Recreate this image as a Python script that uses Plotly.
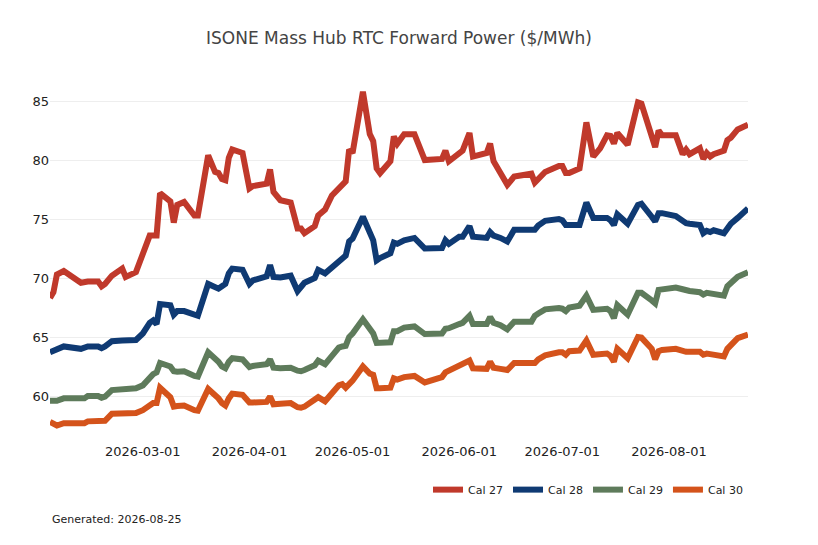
import plotly.graph_objects as go

# forward curve marks (settle dates) and prices in $/MWh
dates = [
    "2026-02-02", "2026-02-03", "2026-02-04", "2026-02-06", "2026-02-11", "2026-02-12", "2026-02-13", "2026-02-16", "2026-02-17", "2026-02-18",
    "2026-02-20", "2026-02-23", "2026-02-24", "2026-02-27", "2026-03-01", "2026-03-03", "2026-03-04", "2026-03-05", "2026-03-06", "2026-03-09",
    "2026-03-10", "2026-03-11", "2026-03-13", "2026-03-16", "2026-03-17", "2026-03-20", "2026-03-22", "2026-03-23", "2026-03-24", "2026-03-25",
    "2026-03-26", "2026-03-27", "2026-03-30", "2026-04-01", "2026-04-02", "2026-04-06", "2026-04-07", "2026-04-08", "2026-04-10", "2026-04-13",
    "2026-04-15", "2026-04-16", "2026-04-17", "2026-04-20", "2026-04-21", "2026-04-23", "2026-04-25", "2026-04-27", "2026-04-28", "2026-04-29",
    "2026-04-30", "2026-05-01", "2026-05-04", "2026-05-06", "2026-05-07", "2026-05-08", "2026-05-09", "2026-05-12", "2026-05-13", "2026-05-14",
    "2026-05-16", "2026-05-19", "2026-05-22", "2026-05-27", "2026-05-28", "2026-05-29", "2026-06-01", "2026-06-02", "2026-06-04", "2026-06-05",
    "2026-06-09", "2026-06-10", "2026-06-11", "2026-06-13", "2026-06-15", "2026-06-17", "2026-06-22", "2026-06-23", "2026-06-24", "2026-06-26",
    "2026-06-30", "2026-07-01", "2026-07-02", "2026-07-03", "2026-07-06", "2026-07-08", "2026-07-10", "2026-07-12", "2026-07-14", "2026-07-15",
    "2026-07-16", "2026-07-17", "2026-07-20", "2026-07-23", "2026-07-24", "2026-07-27", "2026-07-28", "2026-07-29", "2026-07-30", "2026-08-03",
    "2026-08-05", "2026-08-06", "2026-08-07", "2026-08-10", "2026-08-11", "2026-08-12", "2026-08-13", "2026-08-14", "2026-08-17", "2026-08-18",
    "2026-08-19", "2026-08-21", "2026-08-24",
]

cal27 = [
    68.3, 68.8, 70.3, 70.6, 69.6, 69.7, 69.7, 69.7, 69.3, 69.5,
    70.2, 70.8, 70.1, 70.5, 72.2, 73.6, 73.6, 73.6, 77.2, 76.5,
    74.7, 76.2, 76.45, 75.3, 75.3, 80.4, 79.0, 78.9, 78.4, 78.3,
    80.2, 80.9, 80.6, 77.6, 77.8, 78.0, 79.2, 77.3, 76.6, 76.4,
    74.2, 74.2, 73.8, 74.4, 75.3, 75.8, 77.0, 77.7, 77.9, 78.2,
    80.9, 80.6, 85.8, 82.2, 81.6, 79.3, 78.9, 79.9, 82.0, 81.4,
    82.2, 82.2, 80.0, 80.1, 80.8, 79.9, 80.6, 80.8, 82.3, 80.3,
    80.6, 81.4, 79.9, 78.8, 77.9, 78.6, 78.85, 78.1, 78.4, 79.0,
    79.5, 79.5, 78.9, 78.9, 79.3, 83.2, 80.3, 81.0, 82.1, 82.05,
    81.4, 82.3, 81.3, 84.9, 84.8, 82.3, 81.1, 82.5, 82.1, 82.1,
    80.5, 80.9, 80.5, 81.0, 80.1, 80.6, 80.3, 80.5, 80.8, 81.7,
    81.9, 82.6, 83.0,
]

cal28 = [
    63.7, 63.8, 63.9, 64.2, 64.0, 64.1, 64.2, 64.2, 64.05, 64.2,
    64.65, 64.7, 64.7, 64.75, 65.3, 66.2, 66.4, 66.1, 67.8, 67.7,
    66.9, 67.2, 67.2, 66.9, 66.8, 69.5, 69.3, 69.1, 69.3, 69.5,
    70.4, 70.8, 70.7, 69.5, 69.8, 70.15, 71.1, 70.1, 70.05, 70.2,
    68.9, 69.3, 69.6, 70.0, 70.7, 70.4, 70.9, 71.5, 71.7, 71.9,
    73.1, 73.35, 75.2, 73.8, 73.2, 71.5, 71.7, 72.1, 73.0, 72.9,
    73.2, 73.4, 72.5, 72.55, 73.2, 72.9, 73.5, 73.5, 74.4, 73.5,
    73.4, 73.9, 73.6, 73.4, 73.1, 74.1, 74.1, 74.1, 74.45, 74.85,
    75.0, 74.9, 74.5, 74.5, 74.5, 76.4, 75.1, 75.1, 75.1, 74.9,
    74.5, 75.4, 74.6, 76.2, 76.3, 75.2, 74.8, 75.5, 75.5, 75.25,
    74.8, 74.65, 74.6, 74.5, 73.8, 74.0, 73.9, 74.05, 73.8, 74.25,
    74.6, 75.1, 75.9,
]

cal29 = [
    59.6, 59.6, 59.6, 59.8, 59.75, 59.8, 60.0, 60.0, 59.85, 59.95,
    60.5, 60.55, 60.55, 60.65, 60.9, 61.6, 61.85, 62.0, 62.8, 62.5,
    62.1, 62.05, 62.1, 61.7, 61.65, 63.7, 63.2, 62.9, 62.5, 62.35,
    62.9, 63.2, 63.1, 62.45, 62.55, 62.7, 63.1, 62.4, 62.35, 62.4,
    62.15, 62.1, 62.2, 62.6, 63.0, 62.7, 63.4, 64.1, 64.2, 64.25,
    65.0, 65.3, 66.5, 65.7, 65.3, 64.5, 64.5, 64.55, 65.5, 65.5,
    65.8, 65.9, 65.25, 65.3, 65.7, 65.75, 66.1, 66.2, 66.8, 66.1,
    66.1, 66.7, 66.2, 66.0, 65.65, 66.3, 66.3, 66.8, 67.0, 67.35,
    67.45, 67.4, 67.2, 67.5, 67.65, 68.5, 67.3, 67.35, 67.4, 67.2,
    66.6, 67.7, 66.9, 68.75, 68.75, 68.1, 67.85, 69.0, 69.05, 69.2,
    69.05, 68.95, 68.9, 68.8, 68.6, 68.75, 68.7, 68.75, 68.5, 69.3,
    69.6, 70.1, 70.5,
]

cal30 = [
    57.8, 57.7, 57.5, 57.7, 57.6, 57.7, 57.85, 57.85, 57.8, 57.9,
    58.5, 58.5, 58.5, 58.55, 58.8, 59.3, 59.4, 59.4, 60.7, 59.9,
    59.1, 59.15, 59.2, 58.8, 58.75, 60.6, 60.1, 59.8, 59.4, 59.2,
    59.8, 60.2, 60.1, 59.45, 59.45, 59.5, 59.95, 59.3, 59.35, 59.4,
    59.05, 59.0, 59.1, 59.6, 59.9, 59.55, 60.2, 60.9, 61.0, 60.7,
    61.0, 61.3, 62.5, 61.9, 61.8, 60.65, 60.65, 60.7, 61.5, 61.4,
    61.6, 61.7, 61.15, 61.6, 62.0, 62.15, 62.55, 62.65, 63.0, 62.35,
    62.3, 62.9, 62.4, 62.3, 62.2, 62.8, 62.8, 62.8, 63.1, 63.45,
    63.7, 63.7, 63.5, 63.8, 63.85, 64.7, 63.5, 63.55, 63.6, 63.4,
    62.9, 64.0, 63.2, 65.0, 64.95, 64.0, 63.1, 63.8, 63.9, 64.0,
    63.75, 63.75, 63.75, 63.75, 63.5, 63.6, 63.55, 63.5, 63.35, 64.0,
    64.3, 64.9, 65.2,
]

series = [
    ("Cal 27", cal27, "#c0392b"),
    ("Cal 28", cal28, "#0f3a73"),
    ("Cal 29", cal29, "#5e7b5b"),
    ("Cal 30", cal30, "#d4531b"),
]

fig = go.Figure()
for name, vals, color in series:
    fig.add_trace(go.Scatter(x=dates, y=vals, name=name, mode="lines",
                             line=dict(color=color, width=6)))

# page has an 8px body margin, so the figure is sized to the window minus that
fig.update_layout(
    width=802,
    height=529,
    template="plotly_white",
    font=dict(family="DejaVu Sans", size=12, color="#222"),
    title=dict(text="ISONE Mass Hub RTC Forward Power ($/MWh)", x=0.5, xref="paper",
               xanchor="center", y=0.943, yref="container", yanchor="middle",
               font=dict(size=17, color="#444")),
    margin=dict(l=42, r=62, t=65.5, b=94.7),
    plot_bgcolor="white",
    paper_bgcolor="white",
    legend=dict(orientation="h", x=1, xanchor="right", y=-0.09, yanchor="top",
                font=dict(size=11)),
    showlegend=True,
)
fig.update_xaxes(showgrid=False, zeroline=False, showline=False,
                 tickformat="%Y-%m-%d", dtick="M1", tick0="2026-03-01",
                 tickfont=dict(size=13))
fig.update_yaxes(range=[56.1, 87.3], dtick=5, gridcolor="#eeeeee",
                 zeroline=False, showline=False, tickfont=dict(size=13))

fig.add_annotation(text="Generated: 2026-08-25", xref="paper", yref="paper",
                   x=0, y=-0.211, xanchor="left", yanchor="middle",
                   showarrow=False, font=dict(size=11, color="#222"))

fig.write_html("out.html")
